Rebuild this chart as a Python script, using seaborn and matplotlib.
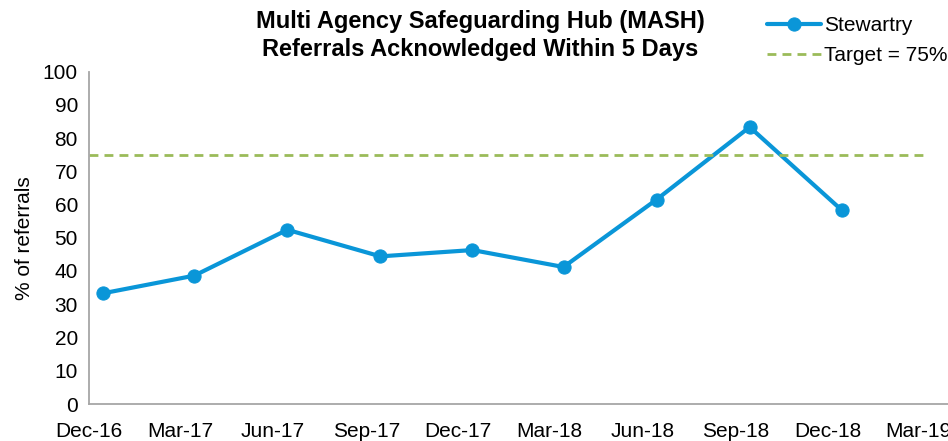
import pandas as pd
import matplotlib
matplotlib.use("Agg")
import matplotlib.pyplot as plt
import matplotlib.dates as mdates
import seaborn as sns

# data (quarterly, plotted mid-month)
quarters = ['2016-12-15', '2017-03-15', '2017-06-15', '2017-09-15', '2017-12-15',
            '2018-03-15', '2018-06-15', '2018-09-15', '2018-12-15']
stewartry = [33.3, 38.6, 52.4, 44.4, 46.3, 41.2, 61.5, 83.3, 58.3]
target = 75
tick_dates = ['2016-12-01', '2017-03-01', '2017-06-01', '2017-09-01', '2017-12-01',
              '2018-03-01', '2018-06-01', '2018-09-01', '2018-12-01', '2019-03-01']

df = pd.DataFrame({'date': pd.to_datetime(quarters), 'pct': stewartry})

sns.set_style('white')
plt.rcParams['font.family'] = ['Liberation Sans', 'DejaVu Sans']
plt.rcParams['text.color'] = 'black'
plt.rcParams['axes.labelcolor'] = 'black'

fig = plt.figure(figsize=(9.48, 4.41), dpi=100)
ax = fig.add_axes([89 / 948, 1 - 404 / 441, 1 - 89 / 948, (404 - 71.5) / 441])

blue = '#0A96D8'
green = '#9BBB59'

sns.lineplot(data=df, x='date', y='pct', ax=ax, color=blue, linewidth=3,
             marker='o', markersize=9.5, markeredgecolor=blue, label='Stewartry')
ax.axhline(target, xmin=0, xmax=0.975, color=green, linewidth=2,
           linestyle=(0, (3.2, 2.2)), label='Target = 75%')

ax.set_ylim(0, 100)
ax.set_yticks(range(0, 101, 10))
ax.set_xlim(pd.Timestamp('2016-12-01'), pd.Timestamp('2019-03-30'))
ax.set_xticks(pd.to_datetime(tick_dates))
ax.xaxis.set_major_formatter(mdates.DateFormatter('%b-%y'))

for s in ['top', 'right']:
    ax.spines[s].set_visible(False)
for s in ['left', 'bottom']:
    ax.spines[s].set_color('#A6A6A6')
    ax.spines[s].set_linewidth(1.3)
ax.tick_params(axis='both', which='major', length=5, width=1.2, color='#A6A6A6',
               labelsize=15, labelcolor='black', pad=3)
ax.tick_params(axis='x', pad=8)
ax.set_xlabel('')
ax.set_ylabel('% of referrals', fontsize=15, labelpad=6)

fig.text(480 / 948, 1 - 10 / 441, 'Multi Agency Safeguarding Hub (MASH)\nReferrals Acknowledged Within 5 Days',
         ha='center', va='top', fontsize=17, fontweight='bold', linespacing=1.3)

ax.legend(loc='upper left', bbox_to_anchor=(767 / 948, 1 - 16 / 441), bbox_transform=fig.transFigure,
          frameon=False, fontsize=15, handlelength=2.6, handletextpad=0.15,
          labelspacing=0.55, borderaxespad=0, borderpad=0)

fig.savefig('out.png', dpi=100)
